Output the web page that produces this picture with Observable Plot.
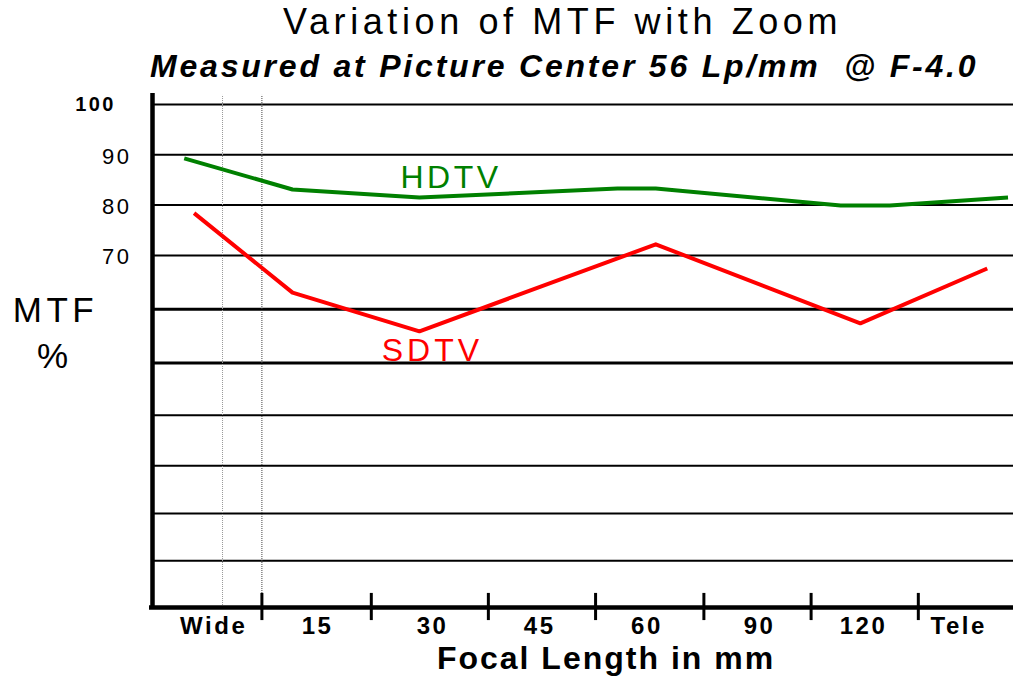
<!DOCTYPE html>
<html><head><meta charset="utf-8">
<script src="https://cdn.jsdelivr.net/npm/d3@7"></script>
<script src="https://cdn.jsdelivr.net/npm/@observablehq/plot@0.6"></script>
<style>
body{margin:0;background:#fff;font-family:"Liberation Sans",Arial,sans-serif;}
#wrap{position:relative;width:1013px;height:677px;overflow:hidden;background:#fff}
#head{position:relative;height:88px}
#title{position:absolute;left:283px;top:4px;font-size:36px;line-height:1;letter-spacing:4.6px;white-space:pre;color:#000}
#subtitle{position:absolute;left:150px;top:50px;font-size:32px;line-height:1;font-weight:bold;font-style:italic;letter-spacing:2.8px;white-space:pre;color:#000}
#chart svg{display:block}
</style></head>
<body><div id="wrap"><div id="head"><div id="title"></div><div id="subtitle"></div></div><div id="chart"></div></div>
<script>
// ---- data ----
const titleText = "Variation of MTF with Zoom";
const subtitleText = "Measured at Picture Center 56 Lp/mm  @ F-4.0";
const xLabel = "Focal Length in mm";
const yLabel = ["MTF", "%"];
const categories = ["Wide", "15", "30", "45", "60", "90", "120", "Tele"];
const categoryPos = [0.05, 1, 2.05, 3.03, 4.01, 5.04, 5.99, 6.86];
const categoryBounds = [0.5, 1.5, 2.57, 3.55, 4.54, 5.52, 6.5];
const hdtvX = [-0.21, 0.78, 1.94, 3.75, 4.10, 5.79, 6.24, 7.32];
const hdtvY = [89.3, 83.1, 81.5, 83.3, 83.3, 79.9, 79.9, 81.5];
const sdtvX = [-0.12, 0.78, 1.94, 4.10, 5.97, 7.13];
const sdtvY = [78.4, 62.6, 54.9, 72.2, 56.5, 67.4];
const gridY = [100, 90, 80, 70, 59.3, 48.6, 38.2, 28.2, 18.7, 9.3];
const yTickLabels = [100, 90, 80, 70];
const dottedX = [0.14, 0.5];
const seriesNames = ["HDTV", "SDTV"];
const seriesLabelX = [2.21, 2.04];
const seriesLabelY = [85.5, 51.1];
const seriesColors = ["#008000", "#ff0000"];

document.getElementById("title").textContent = titleText;
document.getElementById("subtitle").textContent = subtitleText;

const hd = hdtvX.map((x, i) => ({x, y: hdtvY[i]}));
const sd = sdtvX.map((x, i) => ({x, y: sdtvY[i]}));
const font = '"Liberation Sans", Arial, sans-serif';

const plot = Plot.plot({
  width: 1013, height: 589,
  marginTop: 16, marginBottom: 70, marginLeft: 152, marginRight: 0,
  x: {domain: [-0.5, 7.37], axis: null},
  y: {domain: [0, 100], axis: null},
  style: {fontFamily: font, background: "white", overflow: "visible", color: "black"},
  marks: [
    Plot.ruleY(gridY, {stroke: "black", strokeWidth: d => (d > 45 && d < 65) ? 3 : 2}),
    Plot.ruleX([dottedX[0]], {y1: 0, y2: 101.8, stroke: "#999", strokeWidth: 1, strokeDasharray: "1,1"}),
    Plot.ruleX([dottedX[1]], {y1: 0, y2: 101.8, stroke: "#444", strokeWidth: 1, strokeDasharray: "1,1"}),
    Plot.ruleX([-0.5], {y1: -0.4, y2: 102.2, stroke: "black", strokeWidth: 4.5}),
    Plot.ruleY([0], {stroke: "black", strokeWidth: 4.5, insetLeft: -3}),
    Plot.ruleX(categoryBounds, {y1: -2.6, y2: 2.8, stroke: "black", strokeWidth: 3}),
    Plot.line(hd, {x: "x", y: "y", stroke: seriesColors[0], strokeWidth: 4, strokeLinecap: "butt"}),
    Plot.line(sd, {x: "x", y: "y", stroke: seriesColors[1], strokeWidth: 4, strokeLinecap: "butt"}),
    Plot.text(yTickLabels.filter(d => d === 100), {x: -0.5, y: d => d, text: d => String(d), textAnchor: "end", dx: -36.5, fontSize: 20, fontWeight: "bold"}),
    Plot.text(yTickLabels.filter(d => d !== 100), {x: -0.5, y: d => d, text: d => String(d), textAnchor: "end", dx: -21, dy: 2, fontSize: 22}),
    Plot.text(categories, {x: (d, i) => categoryPos[i], y: 0, text: d => d, dy: 18.5, dx: 1, fontSize: 24, fontWeight: "bold"}),
    Plot.text([xLabel], {frameAnchor: "bottom", textAnchor: "middle", dy: 61, dx: 23, fontSize: 32, fontWeight: "bold"}),
    Plot.text([yLabel[0]], {frameAnchor: "left", textAnchor: "middle", dx: -97, dy: -45.5, fontSize: 35}),
    Plot.text([yLabel[1]], {frameAnchor: "left", textAnchor: "middle", dx: -100, dy: 1, fontSize: 35}),
    Plot.text([seriesNames[0]], {x: seriesLabelX[0], y: seriesLabelY[0], fill: seriesColors[0], fontSize: 32, dx: 2}),
    Plot.text([seriesNames[1]], {x: seriesLabelX[1], y: seriesLabelY[1], fill: seriesColors[1], fontSize: 32, dx: 2})
  ]
});

const spacing = new Map([
  ["100", 2.5], ["90", 2.5], ["80", 2.5], ["70", 2.5],
  ["Wide", 2.5], ["15", 2.5], ["30", 2.5], ["45", 2.5], ["60", 2.5], ["120", 2.5], ["Tele", 2.5],
  [xLabel, 2], ["MTF", 4.5], ["HDTV", 3.5], ["SDTV", 4]
]);
d3.select(plot).selectAll("text").each(function() {
  const s = spacing.get(this.textContent);
  if (s) this.setAttribute("letter-spacing", s);
});
document.getElementById("chart").appendChild(plot);
</script>
</body></html>
